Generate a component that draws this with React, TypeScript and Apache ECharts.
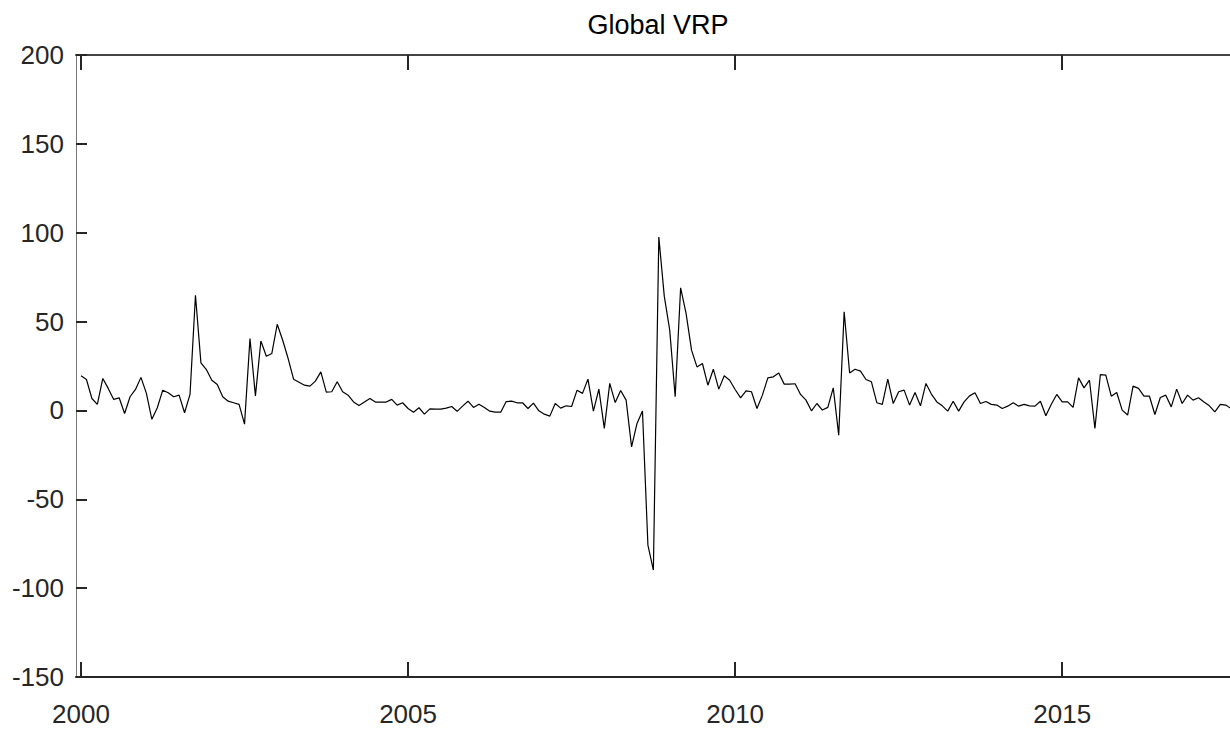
import React, { useEffect, useRef } from "react";
import * as echarts from "echarts";

// Monthly global variance risk premium, starting January 2000
const TITLE = "Global VRP";
const START_YEAR = 2000;
const vrp: number[] = [
  19.5, 17.4, 6.7, 3.4, 18, 12.4, 6.2, 7.1, -1.7, 7.7, 11.8, 18.6,
  9.6, -5, 1.5, 11.4, 9.9, 7.7, 8.6, -1.3, 9, 64.8, 26.8, 23,
  17, 14.6, 7.7, 5.2, 4.3, 3.4, -7.7, 40.5, 8.2, 39.1, 30.5, 32,
  48.5, 39.5, 29.2, 17.6, 15.9, 14.2, 13.7, 16.5, 21.7, 10.3, 10.5, 16.1,
  10.5, 8.6, 4.8, 2.8, 4.8, 6.7, 4.7, 4.7, 4.7, 6.2, 3, 4.3,
  1.1, -1, 1.5, -2.1, 0.9, 0.7, 0.7, 1.3, 2.2, -0.5, 2.4, 5.2,
  1.7, 3.5, 1.7, -0.4, -1, -1, 5, 5.2, 4.3, 4.3, 1.1, 4.1,
  -0.2, -2.1, -3.2, 3.9, 1.3, 2.6, 2.2, 11.4, 9.6, 17.6, -0.4, 12,
  -10.1, 15.2, 4.4, 11.2, 5.8, -20.5, -7.3, -0.3, -75.8, -89.8, 97.6, 64.3,
  45.2, 7.7, 69, 54.6, 33.9, 24.5, 26.4, 14.2, 23.2, 12, 19.5, 17,
  11.8, 7.1, 11, 10.5, 1.1, 8.6, 18.3, 18.9, 21.1, 14.8, 14.8, 15,
  9, 5.8, -0.2, 3.9, 0.2, 1.7, 12.7, -13.9, 55.5, 21.1, 23.2, 22.1,
  17.4, 16.1, 4.3, 3.4, 17.6, 3.9, 10.5, 11.4, 3, 10.1, 2.6, 15.2,
  9.2, 4.8, 2.6, -0.4, 5.2, -0.4, 4.8, 8.2, 9.9, 3.9, 5, 3.4,
  3, 1.1, 2.4, 4.3, 2.4, 3.4, 2.6, 2.4, 5.2, -3, 3.5, 9,
  4.8, 4.8, 1.7, 18.3, 12.7, 17, -10.1, 20.2, 19.9, 8, 10.1, 0.2,
  -2.6, 13.7, 12.4, 8, 8, -2.3, 7.3, 8.6, 2, 12, 3.9, 8.6,
  5.8, 7.1, 4.8, 2.6, -0.8, 3.4, 3, 1,
];

const yearTicks = [2000, 2005, 2010, 2015];
const yearLabels = ["2000", "2005", "2010", "2015"];
const Y_MIN = -150;
const Y_MAX = 200;
const Y_STEP = 50;
const X_MIN = 1999.9237;
const X_MAX = 2017.565;

const FONT = '"Liberation Sans", Arial, Helvetica, sans-serif';
const AXIS_COLOR = "#262626";

export default function App() {
  const ref = useRef<HTMLDivElement>(null);

  useEffect(() => {
    if (!ref.current) return;
    const chart = echarts.init(ref.current, undefined, { renderer: "svg" });

    const points = vrp.map((v, i) => [START_YEAR + i / 12, v]);

    const xCommon = {
      type: "value" as const,
      min: X_MIN,
      max: X_MAX,
      splitLine: { show: false },
    };

    chart.setOption({
      animation: false,
      backgroundColor: "#ffffff",
      title: {
        text: TITLE,
        left: 653,
        top: 6,
        textAlign: "center",
        textStyle: {
          fontFamily: FONT,
          fontSize: 27,
          fontWeight: "normal",
          color: "#000000",
        },
      },
      grid: { left: 76, top: 55, width: 1155, height: 622 },
      xAxis: [
        {
          ...xCommon,
          position: "bottom",
          axisLine: { show: true, onZero: false, lineStyle: { color: AXIS_COLOR, width: 2 } },
          axisTick: {
            show: true,
            inside: true,
            length: 15,
            customValues: yearTicks,
            lineStyle: { color: AXIS_COLOR, width: 2 },
          },
          axisLabel: {
            show: true,
            customValues: yearTicks,
            margin: 24,
            fontFamily: FONT,
            fontSize: 26,
            color: AXIS_COLOR,
            formatter: (v: number) => yearLabels[yearTicks.indexOf(Math.round(v))] ?? "",
          },
        },
        {
          ...xCommon,
          position: "top",
          axisLine: { show: true, onZero: false, lineStyle: { color: "#444444", width: 2 } },
          axisTick: {
            show: true,
            inside: true,
            length: 15,
            customValues: yearTicks,
            lineStyle: { color: AXIS_COLOR, width: 2 },
          },
          axisLabel: { show: false },
        },
      ],
      yAxis: {
        type: "value",
        min: Y_MIN,
        max: Y_MAX,
        interval: Y_STEP,
        splitLine: { show: false },
        axisLine: { show: true, onZero: false, lineStyle: { color: "#777777", width: 1 } },
        axisTick: {
          show: true,
          inside: true,
          length: 11,
          lineStyle: { color: AXIS_COLOR, width: 2 },
        },
        axisLabel: {
          margin: 12,
          fontFamily: FONT,
          fontSize: 26,
          color: AXIS_COLOR,
          padding: [6, 0, 0, 0],
        },
      },
      series: [
        {
          type: "line",
          data: points,
          xAxisIndex: 0,
          showSymbol: false,
          symbol: "none",
          clip: true,
          lineStyle: { color: "#000000", width: 1.2 },
        },
      ],
    });

    return () => chart.dispose();
  }, []);

  return (
    <div
      ref={ref}
      style={{ position: "absolute", left: 0, top: 0, width: 1230, height: 731 }}
    />
  );
}
